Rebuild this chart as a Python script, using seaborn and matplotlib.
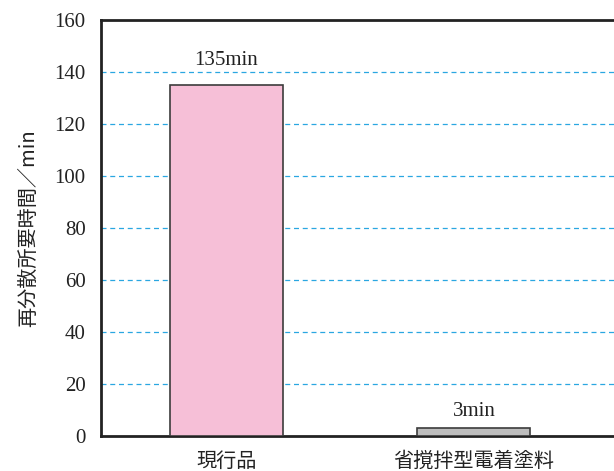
import matplotlib
matplotlib.use("Agg")
import matplotlib.pyplot as plt
import seaborn as sns
import pandas as pd

categories = ["現行品", "省撹拌型電着塗料"]
values = [135, 3]
value_labels = ["135min", "3min"]
label_offsets = [9.5, 6.5]
bar_colors = ["#F6BFD7", "#BDBDBD"]
yticks = [0, 20, 40, 60, 80, 100, 120, 140, 160]
ylabel = "再分散所要時間／min"

sns.set_theme(style="white")
plt.rcParams["font.family"] = ["Liberation Serif", "Noto Sans CJK JP", "DejaVu Sans"]

df = pd.DataFrame({"cat": categories, "val": values})

fig = plt.figure(figsize=(6.14, 4.71), dpi=100)
ax = fig.add_axes([101 / 614, 1 - 436 / 471, 513 / 614, 416 / 471])

sns.barplot(data=df, x="cat", y="val", hue="cat", palette=bar_colors,
            legend=False, width=0.457, edgecolor="#3c3c3c", linewidth=1.2,
            saturation=1, ax=ax, zorder=3)

ax.set_ylim(0, 160)
ax.set_xlim(-0.507, 1.566)
ax.set_yticks(yticks)
ax.set_yticklabels([str(t) for t in yticks], fontsize=15, family=["Liberation Serif"])
ax.set_xticks(range(len(categories)))
ax.set_xticklabels(categories, fontsize=14.5, family=["Noto Sans CJK JP", "DejaVu Sans"])
ax.tick_params(axis="both", length=0, pad=11, colors="#222222")
ax.tick_params(axis="x", pad=11)

for t in yticks[1:-1]:
    ax.axhline(t, color="#2AA7E1", linestyle=(0, (4, 3)), linewidth=0.9, zorder=1)

for i, (v, lab, off) in enumerate(zip(values, value_labels, label_offsets)):
    ax.text(i, v + off, lab, ha="center", va="center", fontsize=15,
            family=["Liberation Serif"], color="#222222")

ax.set_xlabel("")
ax.set_ylabel(ylabel, fontsize=14.5, family=["Noto Sans CJK JP", "DejaVu Sans"],
              color="#222222", labelpad=11)

for s in ["left", "bottom", "top"]:
    ax.spines[s].set_visible(True)
    ax.spines[s].set_color("#222222")
    ax.spines[s].set_linewidth(2)
ax.spines["right"].set_visible(False)

fig.savefig("out.png", dpi=100)
